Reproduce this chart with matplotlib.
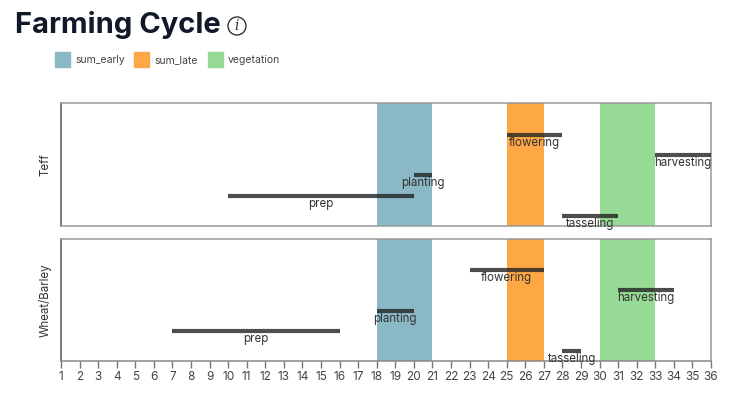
import matplotlib.pyplot as plt
from matplotlib.patches import Rectangle, Ellipse

plt.rcParams['font.family'] = ['Inter', 'DejaVu Sans']

# data
crops = ['Teff', 'Wheat/Barley']
stages = ['flowering', 'harvesting', 'planting', 'prep', 'tasseling']
teff_start = [25, 33, 20, 10, 28]
teff_end = [28, 36, 21, 20, 31]
wheat_start = [23, 31, 18, 7, 28]
wheat_end = [27, 34, 20, 16, 29]

season_names = ['sum_early', 'sum_late', 'vegetation']
season_start = [18, 25, 30]
season_end = [21, 27, 33]
season_colors = ['#8ab8c7', '#fda845', '#97da95']

weeks = list(range(1, 37))

fig = plt.figure(figsize=(7.37, 4.13), dpi=100)
W, H = 737, 413


def px_axes(left, top, right, bottom):
    return fig.add_axes([left / W, (H - bottom) / H, (right - left) / W, (bottom - top) / H])


ax_top = px_axes(61, 103, 711, 226)
ax_bot = px_axes(61, 239, 711, 361)

panels = [(ax_top, teff_start, teff_end), (ax_bot, wheat_start, wheat_end)]

for (ax, starts, ends), crop in zip(panels, crops):
    for s, e, c in zip(season_start, season_end, season_colors):
        ax.axvspan(s, e, color=c, lw=0, zorder=1)
    for i, (s, e, name) in enumerate(zip(starts, ends, stages)):
        ax.plot([s, e], [i, i], color='#222222', lw=3, alpha=0.8,
                solid_capstyle='butt', zorder=3)
        ax.annotate(name, xy=((s + e) / 2, i), xytext=(0, -8),
                    textcoords='offset pixels', ha='center', va='center',
                    fontsize=8.3, color='#333333', zorder=4)
    ax.set_xlim(1, 36)
    ax.set_ylim(4.5, -1.55)
    ax.set_yticks([])
    ax.set_ylabel(crop, fontsize=8.3, color='#333333', labelpad=7)
    ax.spines['left'].set_color('#555555')
    for sp in ['top', 'right', 'bottom']:
        ax.spines[sp].set_color('#999999')
    for sp in ax.spines.values():
        sp.set_linewidth(1.1)

ax_top.set_xticks([])
ax_bot.set_xticks(weeks)
ax_bot.set_xticklabels([str(w) for w in weeks])
ax_bot.tick_params(axis='x', length=5, width=1, color='#777777',
                   labelsize=8.5, labelcolor='#444444', pad=2)
ax_bot.spines['bottom'].set_color('#888888')

# title and info icon
fig.text(15 / W, 1 - 25 / H, 'Farming Cycle', fontsize=21, fontweight='bold',
         color='#111827', ha='left', va='center')
fig.patches.append(Ellipse((237 / W, 1 - 26 / H), 18 / W, 18 / H, transform=fig.transFigure,
                           fill=False, ec='#333333', lw=1, figure=fig))
fig.text(237 / W, 1 - 26 / H, 'i', fontsize=10, style='italic', color='#333333',
         ha='center', va='center', family='DejaVu Serif')

# legend
leg_x = [55, 134, 208]
for x, name, c in zip(leg_x, season_names, season_colors):
    fig.patches.append(Rectangle((x / W, 1 - 67 / H), 15 / W, 15 / H,
                                 transform=fig.transFigure, color=c, figure=fig))
    fig.text((x + 20) / W, 1 - 60 / H, name, fontsize=7.5, color='#444444',
             ha='left', va='center')

fig.savefig('out.png', dpi=100)
